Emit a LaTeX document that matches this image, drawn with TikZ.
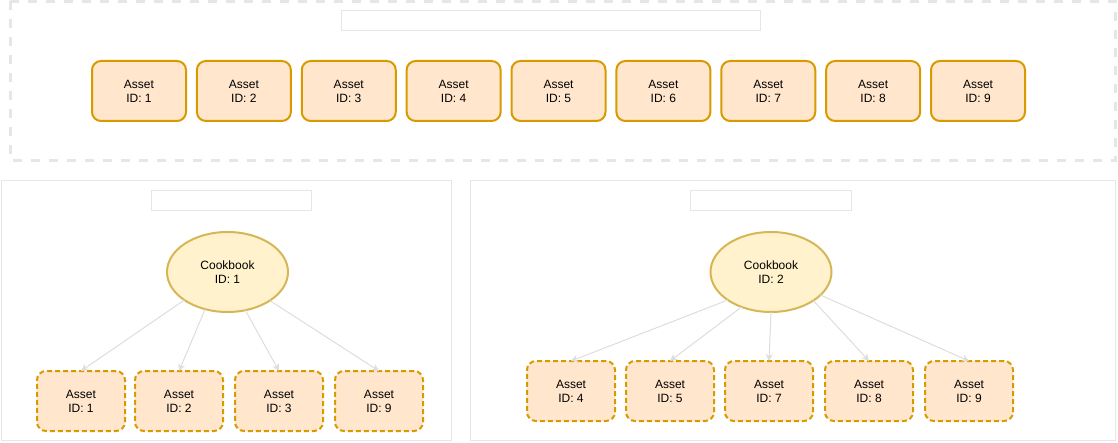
\documentclass[tikz,border=0pt]{standalone}
\usepackage{fontspec}
\setmainfont{Liberation Sans}
\usetikzlibrary{shapes.geometric,arrows.meta}
\definecolor{assetfill}{HTML}{FFE6CC}
\definecolor{assetdraw}{HTML}{D79B00}
\definecolor{cbfill}{HTML}{FFF2CC}
\definecolor{cbdraw}{HTML}{D6B656}
\definecolor{framegray}{HTML}{E6E6E6}
\definecolor{arrowgray}{HTML}{DDDDDD}
\tikzset{
  txt/.style={font=\fontsize{12}{14}\selectfont, align=center, text=black},
  assetbox/.style={txt, draw=assetdraw, fill=assetfill, line width=2pt, rounded corners=9pt,
    minimum width=94pt, minimum height=60pt, inner sep=0pt, outer sep=0pt},
  assetdash/.style={assetbox, minimum width=88pt, dash pattern=on 5pt off 3pt},
  cookbook/.style={txt, ellipse, draw=cbdraw, fill=cbfill, line width=2pt,
    minimum width=121pt, minimum height=80pt, inner sep=0pt, outer sep=0pt},
  labelbox/.style={draw=framegray, fill=white, line width=1pt, inner sep=0pt, outer sep=0pt},
  frame/.style={draw=framegray, line width=1pt},
  dframe/.style={draw=framegray, line width=3pt, dash pattern=on 9pt off 9pt},
  link/.style={draw=arrowgray, line width=1pt, -{Stealth[length=7pt,width=7pt,inset=2pt]}}
}
\begin{document}
\begin{tikzpicture}[x=1pt,y=-1pt]
\useasboundingbox (0,0) rectangle (1118,443);
% frames
\draw[dframe] (10,1.5) rectangle (1115,161);
\draw[frame] (1,181) rectangle (451,440);
\draw[frame] (470.5,181) rectangle (1115.5,440);
% label boxes
\node[labelbox, minimum width=419pt, minimum height=20pt] (lt) at (550.5,21) {};
\node[labelbox, minimum width=160pt, minimum height=20pt] (ll) at (231,201) {};
\node[labelbox, minimum width=161pt, minimum height=20pt] (lr) at (770.5,201) {};
% top assets
\foreach \i in {1,...,9} {
  \node[assetbox] (t\i) at ({139+104.875*(\i-1)},91) {Asset\\ID: \i};
}
% left cookbook
\node[cookbook] (c1) at (227.5,272) {Cookbook\\ID: 1};
\node[assetdash] (a1) at (81,401) {Asset\\ID: 1};
\node[assetdash] (a2) at (179,401) {Asset\\ID: 2};
\node[assetdash] (a3) at (279,401) {Asset\\ID: 3};
\node[assetdash] (a9) at (379,401) {Asset\\ID: 9};
\draw[link] (c1.213) -- (a1.north);
\draw[link] (c1.239) -- (a2.north);
\draw[link] (c1.295) -- (a3.north);
\draw[link] (c1.326) -- (a9.north);
% right cookbook
\node[cookbook] (c2) at (771,272) {Cookbook\\ID: 2};
\node[assetdash] (b4) at (571,391) {Asset\\ID: 4};
\node[assetdash] (b5) at (670,391) {Asset\\ID: 5};
\node[assetdash] (b7) at (769,391) {Asset\\ID: 7};
\node[assetdash] (b8) at (869,391) {Asset\\ID: 8};
\node[assetdash] (b9) at (969,391) {Asset\\ID: 9};
\draw[link] (c2.213) -- (b4.north);
\draw[link] (c2.230) -- (b5.north);
\draw[link] (c2.270) -- (b7.north);
\draw[link] (c2.326) -- (b8.north);
\draw[link] (c2.335) -- (b9.north);
\end{tikzpicture}
\end{document}
